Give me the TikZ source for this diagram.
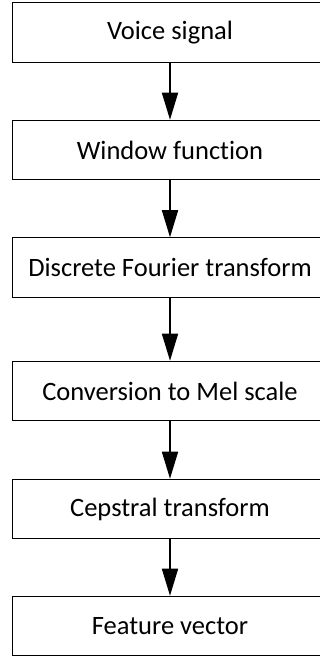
\documentclass[tikz,border=0pt]{standalone}
\usepackage{fontspec}
\setmainfont{Carlito}[Ligatures=NoCommon]
\usetikzlibrary{arrows.meta}
\begin{document}
\begin{tikzpicture}[x=1pt,y=1pt,
  stagebox/.style={draw=black, line width=1pt, minimum width=315pt,
    minimum height=59.5pt, inner sep=0pt, font=\fontsize{26.5}{31}\selectfont},
  flow/.style={line width=1.6pt, -{Triangle[length=27pt,width=16pt]}}]
  \clip (0,0) rectangle (320,659);
  \node[stagebox] (voice) at (170,626.5) {Voice signal};
  \node[stagebox] (win)   at (170,509)   {Window function};
  \node[stagebox] (dft)   at (170,391.5) {Discrete Fourier transform};
  \node[stagebox] (mel)   at (170,268)   {Conversion to Mel scale};
  \node[stagebox] (cep)   at (170,150)   {Cepstral transform};
  \node[stagebox] (feat)  at (170,33)    {Feature vector};
  \draw[flow] (voice) -- (win);
  \draw[flow] (win) -- (dft);
  \draw[flow] (dft) -- (mel);
  \draw[flow] (mel) -- (cep);
  \draw[flow] (cep) -- (feat);
\end{tikzpicture}
\end{document}
